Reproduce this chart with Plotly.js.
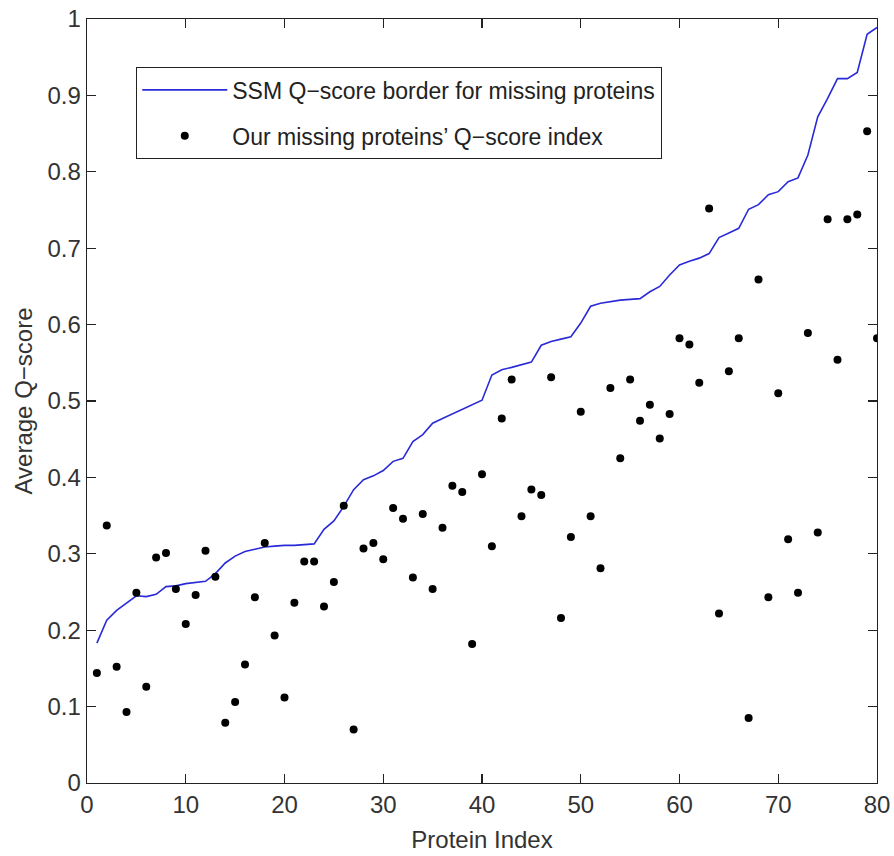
<!DOCTYPE html>
<html>
<head>
<meta charset="utf-8">
<script src="https://cdn.plot.ly/plotly-3.0.1.min.js"></script>
<style>html,body{margin:0;padding:0;background:#fff;}#chart{width:894px;height:856px;}</style>
</head>
<body>
<div id="chart"></div>
<script>
// Protein index (1..80)
const proteinIndex = [1,2,3,4,5,6,7,8,9,10,11,12,13,14,15,16,17,18,19,20,
  21,22,23,24,25,26,27,28,29,30,31,32,33,34,35,36,37,38,39,40,
  41,42,43,44,45,46,47,48,49,50,51,52,53,54,55,56,57,58,59,60,
  61,62,63,64,65,66,67,68,69,70,71,72,73,74,75,76,77,78,79,80];

// SSM Q-score border for missing proteins (blue line)
const ssmBorder = [0.183,0.213,0.226,0.235,0.245,0.244,0.247,0.257,0.258,0.261,
  0.263,0.264,0.274,0.288,0.297,0.303,0.306,0.309,0.310,0.311,
  0.311,0.312,0.313,0.332,0.343,0.362,0.384,0.397,0.402,0.409,
  0.421,0.425,0.447,0.456,0.471,0.477,0.483,0.489,0.494,0.501,
  0.534,0.541,0.544,0.548,0.551,0.573,0.578,0.581,0.584,0.602,
  0.624,0.628,0.630,0.632,0.633,0.634,0.643,0.650,0.665,0.678,
  0.683,0.687,0.693,0.714,0.720,0.726,0.751,0.757,0.770,0.774,
  0.787,0.792,0.822,0.872,0.896,0.922,0.922,0.930,0.980,0.989];

// Our missing proteins' Q-score index (black dots)
const ourQScore = [0.144,0.337,0.152,0.093,0.249,0.126,0.295,0.301,0.254,0.208,
  0.246,0.304,0.270,0.079,0.106,0.155,0.243,0.314,0.193,0.112,
  0.236,0.290,0.290,0.231,0.263,0.363,0.070,0.307,0.314,0.293,
  0.360,0.346,0.269,0.352,0.254,0.334,0.389,0.381,0.182,0.404,
  0.310,0.477,0.528,0.349,0.384,0.377,0.531,0.216,0.322,0.486,
  0.349,0.281,0.517,0.425,0.528,0.474,0.495,0.451,0.483,0.582,
  0.574,0.524,0.752,0.222,0.539,0.582,0.085,0.659,0.243,0.510,
  0.319,0.249,0.589,0.328,0.738,0.554,0.738,0.744,0.853,0.582];

const xTicks = [0,10,20,30,40,50,60,70,80];
const yTicks = [0,0.1,0.2,0.3,0.4,0.5,0.6,0.7,0.8,0.9,1];
const yTickText = ['0','0.1','0.2','0.3','0.4','0.5','0.6','0.7','0.8','0.9','1'];

const FONT = '"Liberation Sans Narrow", "Liberation Sans", Arial, sans-serif';

const traces = [
  {
    x: proteinIndex, y: ssmBorder, type: 'scatter', mode: 'lines',
    name: 'SSM Q\u2212score border for missing proteins', legendgroup: 'a',
    line: {color: '#2a2ad8', width: 1.6}
  },
  {
    x: proteinIndex, y: ourQScore, type: 'scatter', mode: 'markers',
    name: 'Our missing proteins\u2019 Q\u2212score index', legendgroup: 'b',
    marker: {color: '#000', size: 8}
  }
];

const axisCommon = {
  showgrid: false, zeroline: false,
  showline: true, linecolor: '#222', linewidth: 1.3,
  mirror: 'ticks', ticks: 'inside', ticklen: 9, tickwidth: 1.3, tickcolor: '#222',
  tickfont: {family: FONT, size: 24, color: '#333'}
};

const layout = {
  width: 894, height: 856,
  margin: {l: 87, r: 17, t: 19, b: 73},
  paper_bgcolor: '#fff', plot_bgcolor: '#fff',
  font: {family: FONT, color: '#333'},
  xaxis: Object.assign({}, axisCommon, {
    range: [0, 80], tickmode: 'array', tickvals: xTicks,
    title: {text: 'Protein Index', font: {family: FONT, size: 24, color: '#333'}, standoff: 14}
  }),
  yaxis: Object.assign({}, axisCommon, {
    range: [0, 1], tickmode: 'array', tickvals: yTicks, ticktext: yTickText,
    title: {text: 'Average Q\u2212score', font: {family: FONT, size: 24, color: '#333'}, standoff: 8}
  }),
  showlegend: true,
  legend: {
    x: 0.062, y: 0.937, xanchor: 'left', yanchor: 'top',
    bgcolor: '#fff', bordercolor: '#222', borderwidth: 1.3,
    font: {family: FONT, size: 23, color: '#222'},
    itemwidth: 85, tracegroupgap: 13
  }
};

Plotly.newPlot('chart', traces, layout, {staticPlot: true, displayModeBar: false});
</script>
</body>
</html>
